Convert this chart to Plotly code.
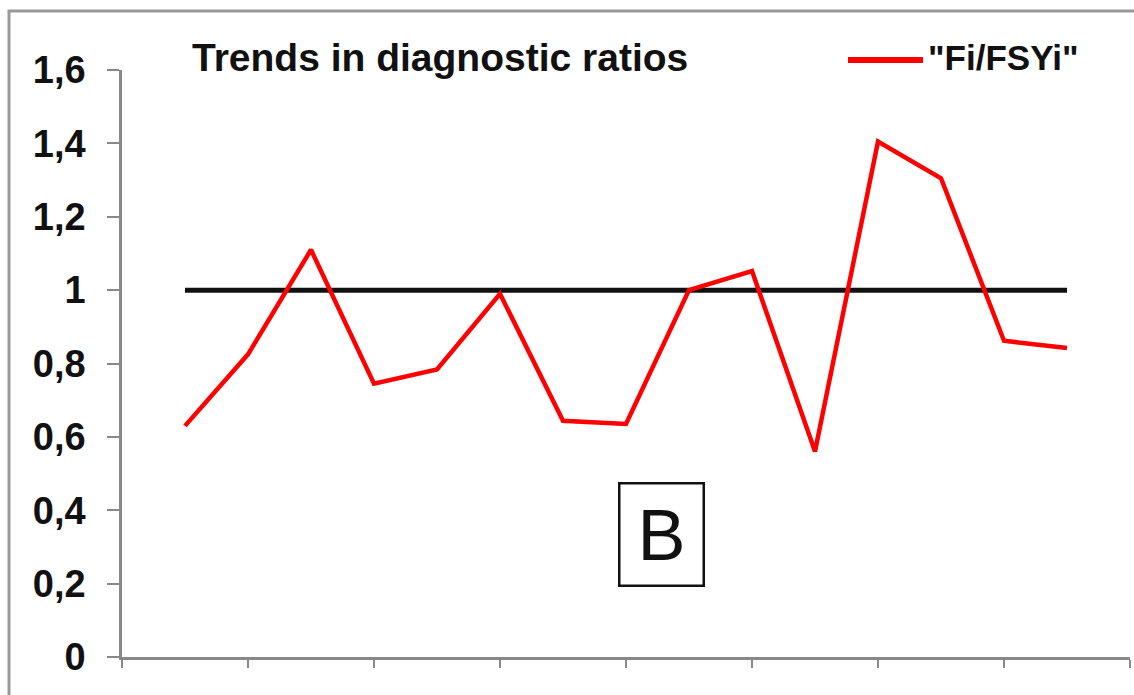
import plotly.graph_objects as go

# ---- data ----
x_points = list(range(1, 16))
ratio_fi_fsyi = [0.63, 0.825, 1.11, 0.745, 0.784, 0.99, 0.644, 0.635, 1.0, 1.052, 0.56, 1.405, 1.305, 0.862, 0.842]
reference_level = [1.0] * 15
series_name = '"Fi/FSYi"'
chart_title = "Trends in diagnostic ratios"
panel_label = "B"
y_tick_vals = [0, 0.2, 0.4, 0.6, 0.8, 1.0, 1.2, 1.4, 1.6]
y_tick_text = ["0", "0,2", "0,4", "0,6", "0,8", "1", "1,2", "1,4", "1,6"]
x_tick_vals = [0, 2, 4, 6, 8, 10, 12, 14, 16]

# ---- layout geometry (pixels) ----
W, H = 1134, 695
L, R, T, B = 122, 4, 70, 38
PW, PH = W - L - R, H - T - B


def px2x(px):
    return (px - L) / PW


def py2y(py):
    return (H - B - py) / PH


FONT = "Liberation Sans, Arial, sans-serif"

fig = go.Figure()
fig.add_trace(go.Scatter(x=x_points, y=reference_level, mode="lines",
                         line=dict(color="#111111", width=5), showlegend=False,
                         name="1"))
fig.add_trace(go.Scatter(x=x_points, y=ratio_fi_fsyi, mode="lines",
                         line=dict(color="#ff0000", width=4.5), showlegend=False,
                         name=series_name))

fig.update_layout(
    width=W, height=H,
    margin=dict(l=L, r=R, t=T, b=B),
    paper_bgcolor="white", plot_bgcolor="white",
    showlegend=False,
    title=dict(text="<b>" + chart_title + "</b>", xref="container", yref="container",
               x=192 / W, xanchor="left", y=1 - 57 / H, yanchor="middle",
               font=dict(family=FONT, size=39, color="#111111")),
)

fig.update_xaxes(range=[0, 16], tickvals=x_tick_vals, showticklabels=False,
                 ticks="outside", ticklen=8, tickwidth=2, tickcolor="#888888",
                 showline=True, linecolor="#888888", linewidth=2.5,
                 showgrid=False, zeroline=False, fixedrange=True)
fig.update_yaxes(range=[0, 1.6], tickvals=y_tick_vals, ticktext=y_tick_text,
                 ticks="outside", ticklen=12, tickwidth=2, tickcolor="#888888",
                 showline=True, linecolor="#888888", linewidth=2.5,
                 showgrid=False, zeroline=False, ticklabelstandoff=14,
                 tickfont=dict(family=FONT, size=38, color="#111111", weight="bold"),
                 fixedrange=True)

# manual legend (long swatch like the original)
fig.add_shape(type="line", xref="paper", yref="paper",
              x0=px2x(848), x1=px2x(923), y0=py2y(60), y1=py2y(60),
              line=dict(color="#ff0000", width=6))
fig.add_annotation(xref="paper", yref="paper", x=px2x(926), y=py2y(58),
                   xanchor="left", yanchor="middle", showarrow=False,
                   text="<b>" + series_name + "</b>",
                   font=dict(family=FONT, size=35, color="#111111"))

# panel label box
fig.add_annotation(xref="paper", yref="paper", x=px2x(661), y=py2y(534),
                   xanchor="center", yanchor="middle", showarrow=False,
                   text=panel_label, width=82, height=100,
                   bordercolor="#111111", borderwidth=2.5, borderpad=0,
                   bgcolor="white",
                   font=dict(family=FONT, size=72, color="#111111"))

# outer frame
fig.add_shape(type="rect", xref="paper", yref="paper",
              x0=px2x(9), x1=px2x(1160), y0=py2y(11), y1=py2y(730),
              line=dict(color="#999999", width=3), layer="below")

fig.write_html("out.html", config={"displayModeBar": False},
               post_script="document.body.style.margin='0';document.body.style.overflow='hidden';")
